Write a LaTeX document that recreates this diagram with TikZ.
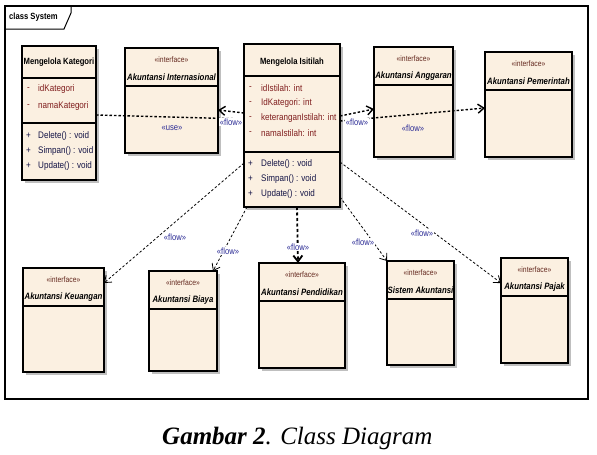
\documentclass[tikz,border=0pt]{standalone}
\usepackage{fontspec}
\newfontfamily\umlfont[FakeStretch=0.85]{Liberation Sans}
\newfontfamily\capfont{Liberation Serif}
\usepackage{xcolor}
\usepackage{tikz}
\usetikzlibrary{arrows.meta, positioning, calc, shadows}
\definecolor{boxfill}{RGB}{251,240,225}
\definecolor{attrcol}{RGB}{128,30,30}
\definecolor{methcol}{RGB}{20,20,70}
\definecolor{stereocol}{RGB}{100,40,30}
\definecolor{flowcol}{RGB}{45,45,150}

\begin{document}
\begin{tikzpicture}[x=1pt, y=-1pt,
    cbox/.style={draw, line width=1.5pt, fill=boxfill, inner sep=0pt, outer sep=0pt, anchor=north west,
        drop shadow={shadow xshift=3pt, shadow yshift=-3pt, fill=black!25, opacity=1}},
    rule/.style={line width=1.5pt},
    title/.style={font=\umlfont\bfseries\fontsize{9}{10}\selectfont, inner sep=0pt},
    attr/.style={font=\umlfont\fontsize{9.5}{11}\selectfont, text=attrcol, anchor=west, inner sep=0pt},
    meth/.style={font=\umlfont\fontsize{9.5}{11}\selectfont, text=methcol, anchor=west, inner sep=0pt},
    stereo/.style={font=\umlfont\fontsize{8}{9}\selectfont, text=stereocol, inner sep=0pt},
    iname/.style={font=\umlfont\bfseries\itshape\fontsize{9.2}{11}\selectfont, inner sep=0pt},
    flowlbl/.style={font=\umlfont\fontsize{9}{10}\selectfont, text=flowcol, fill=white, inner sep=0.6pt},
    dep/.style={line width=0.8pt, dash pattern=on 2.5pt off 2pt, -{Straight Barb[length=6pt, width=9pt]}},
    depthick/.style={dep, line width=1.4pt}]
    \useasboundingbox (0,0) rectangle (597,455);

    % frame
    \draw[line width=1.2pt] (5,6) rectangle (588,399);
    \draw[line width=1pt] (5,29) -- (64,29) -- (71,13) -- (71,6);
    \node[title, anchor=west] (frame-name) at (9,17) {class System};

    % Mengelola Kategori
    \node[cbox, minimum width=74, minimum height=134] (kat) at (22,46) {};
    \node[title] (kat-title) at (59,62) {Mengelola Kategori};
    \draw[rule] (kat.west |- 0,78) -- (kat.east |- 0,78);
    \draw[rule] (kat.west |- 0,123) -- (kat.east |- 0,123);
    \node[attr] (kat-a1m) at (27,89) {-};
    \node[attr] (kat-a1) at (38,89) {idKategori};
    \node[attr] (kat-a2m) at (27,106) {-};
    \node[attr] (kat-a2) at (38,106) {namaKategori};
    \node[meth] (kat-o1m) at (26,136) {+};
    \node[meth] (kat-o1) at (38,136) {Delete() : void};
    \node[meth] (kat-o2m) at (26,151) {+};
    \node[meth] (kat-o2) at (38,151) {Simpan() : void};
    \node[meth] (kat-o3m) at (26,166) {+};
    \node[meth] (kat-o3) at (38,166) {Update() : void};

    % Mengelola Isitilah
    \node[cbox, minimum width=96, minimum height=163] (isti) at (244,44) {};
    \node[title] (isti-title) at (292,62) {Mengelola Isitilah};
    \draw[rule] (isti.west |- 0,76) -- (isti.east |- 0,76);
    \draw[rule] (isti.west |- 0,152) -- (isti.east |- 0,152);
    \node[attr] (isti-a1m) at (249,88) {-};
    \node[attr] (isti-a1) at (261,88) {idIstilah: int};
    \node[attr] (isti-a2m) at (249,103) {-};
    \node[attr] (isti-a2) at (261,103) {IdKategori: int};
    \node[attr] (isti-a3m) at (249,118) {-};
    \node[attr] (isti-a3) at (261,118) {keteranganIstilah: int};
    \node[attr] (isti-a4m) at (249,133) {-};
    \node[attr] (isti-a4) at (261,133) {namaIstilah: int};
    \node[meth] (isti-o1m) at (248,164) {+};
    \node[meth] (isti-o1) at (261,164) {Delete() : void};
    \node[meth] (isti-o2m) at (248,179) {+};
    \node[meth] (isti-o2) at (261,179) {Simpan() : void};
    \node[meth] (isti-o3m) at (248,194) {+};
    \node[meth] (isti-o3) at (261,194) {Update() : void};

    % interfaces
    \foreach \n/\xa/\ya/\xb/\yb/\t in {
        inter/125/48/218/153/Akuntansi Internasional,
        angg/374/47/453/157/Akuntansi Anggaran,
        pem/485/52/572/157/Akuntansi Pemerintah,
        keu/23/268/104/372/Akuntansi Keuangan,
        biaya/149/271/217/371/Akuntansi Biaya,
        pend/259/263/345/368/Akuntansi Pendidikan,
        sis/387/261/454/365/Sistem Akuntansi,
        pajak/501/258/568/363/Akuntansi Pajak} {
        \node[cbox, minimum width=\xb-\xa, minimum height=\yb-\ya] (\n) at (\xa,\ya) {};
        \node[stereo] (\n-st) at ($(\n.north)+(0,12)$) {«interface»};
        \node[iname] (\n-nm) at ($(\n.north)+(0,29)$) {\t};
        \draw[rule] (\n.west |- 0,\ya+38) -- (\n.east |- 0,\ya+38);
    }

    % dependencies
    \draw[depthick, -] (kat.east |- 0,115) -- (isti.west |- 0,119);
    \draw[depthick] (isti.west |- 0,113) -- (inter.east |- 0,110);
    \draw[depthick] (isti.east |- 0,116) -- (angg.west |- 0,109);
    \draw[depthick] (isti.east |- 0,121) -- (pem.west |- 0,108);
    \draw[dep] (isti.west |- 0,163) -- (keu.east |- 0,283);
    \draw[dep] (isti.south -| 247,0) -- (biaya.north -| 213,0);
    \draw[dep, line width=1.8pt, dash pattern=on 3pt off 2.5pt] (isti.south -| 297,0) -- (pend.north -| 298,0);
    \draw[dep] (isti.east |- 0,197) -- (sis.north west);
    \draw[dep] (isti.east |- 0,162) -- (pajak.west |- 0,283);

    \node[flowlbl, fill=none] (use-lbl) at (172,128) {«use»};
    \node[flowlbl] (flow-inter) at (231,122) {«flow»};
    \node[flowlbl] (flow-angg) at (357,122) {«flow»};
    \node[flowlbl, fill=none] (flow-pem) at (413,128) {«flow»};
    \node[flowlbl] (flow-keu) at (175,237) {«flow»};
    \node[flowlbl] (flow-biaya) at (228,251) {«flow»};
    \node[flowlbl] (flow-pend) at (298,247) {«flow»};
    \node[flowlbl] (flow-sis) at (363,242) {«flow»};
    \node[flowlbl] (flow-pajak) at (422,233) {«flow»};

    % caption
    \node[anchor=base west, inner sep=0pt, font=\capfont\fontsize{25}{30}\selectfont] (caption) at (162,444)
        {\textbf{\textit{Gambar 2}}\textit{. Class Diagram}};
\end{tikzpicture}
\end{document}
